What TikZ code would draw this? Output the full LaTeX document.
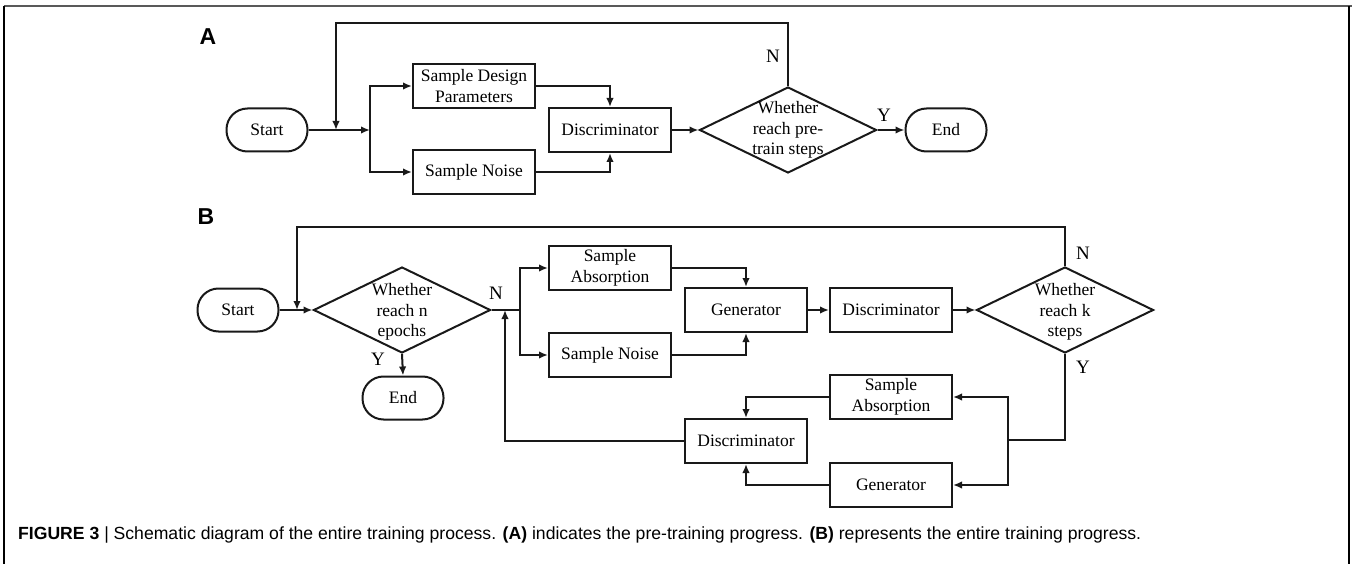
\documentclass[tikz,border=0pt]{standalone}
\usepackage{fontspec}
\setmainfont{Liberation Serif}
\setsansfont{Liberation Sans}
\usetikzlibrary{arrows.meta,shapes.geometric}
\tikzset{
  line/.style={line width=2pt, draw=black!90},
  arr/.style={line, -{Latex[length=9pt,width=7.5pt]}},
  procbox/.style={draw=black!90, line width=2pt, rectangle, minimum width=122pt, minimum height=44pt, inner sep=0pt, align=center, font=\fontsize{17.5}{20.5}\selectfont},
  termbox/.style={draw=black!90, line width=2pt, rectangle, rounded corners=21pt, minimum width=81pt, minimum height=43pt, inner sep=0pt, font=\fontsize{17.5}{20.5}\selectfont},
  decbox/.style={draw=black!90, line width=2pt, diamond, minimum width=177pt, minimum height=86pt, inner sep=0pt},
  dectext/.style={align=center, font=\fontsize{17.5}{20.5}\selectfont, inner sep=0pt},
  yn/.style={font=\fontsize{19}{20}\selectfont, inner sep=0pt},
  panel/.style={font=\fontsize{23}{24}\sffamily\bfseries\selectfont, inner sep=0pt},
}
\begin{document}
\begin{tikzpicture}[x=1pt,y=-1pt]
\useasboundingbox (0,0) rectangle (1352,564);
% frame
\draw[line width=2pt, draw=black!65] (4,6) -- (1352,6);
\draw[line width=2pt, draw=black] (4,6) -- (4,564);
\draw[line width=2pt, draw=black] (1349,6) -- (1349,564);

% ---------- Panel A ----------
\node[panel] (labA) at (208,37) {A};
\node[termbox] (startA) at (267,130) {Start};
\node[procbox] (sdp) at (474,86) {Sample Design\\Parameters};
\node[procbox] (snA) at (474,172) {Sample Noise};
\node[procbox] (discA) at (610,130) {Discriminator};
\node[decbox] (decA) at (788,130) {};
\node[dectext] (decAt) at (788,130) {Whether\\reach pre-\\train steps};
\node[termbox] (endA) at (946,130) {End};
\coordinate (splitA) at (370,130);
\coordinate (loopA) at (336,130);
\node[yn] (nA) at (773,56) {N};
\node[yn] (yA) at (884,115) {Y};

\draw[arr] (startA.east) -- (splitA);
\draw[arr] (splitA) |- (sdp.west);
\draw[arr] (splitA) |- (snA.west);
\draw[arr] (sdp.east) -| (discA.north);
\draw[arr] (snA.east) -| (discA.south);
\draw[arr] (discA.east) -- (decA.west);
\draw[arr] (decA.east) -- (endA.west);
\draw[arr] (decA.north) -- ++(0,-63) -| (loopA);

% ---------- Panel B ----------
\node[panel] (labB) at (206,217) {B};
\node[termbox] (startB) at (238,310) {Start};
\node[decbox] (decN) at (402,310) {};
\node[dectext] (decNt) at (402,312) {Whether\\reach n\\epochs};
\node[termbox] (endB) at (403,398) {End};
\node[procbox] (sa1) at (610,268) {Sample\\Absorption};
\node[procbox] (sn1) at (610,355) {Sample Noise};
\node[procbox] (gen1) at (746,310) {Generator};
\node[procbox] (disc1) at (891,310) {Discriminator};
\node[decbox] (decK) at (1065,310) {};
\node[dectext] (decKt) at (1065,312) {Whether\\reach k\\steps};
\node[procbox] (sa2) at (891,397) {Sample\\Absorption};
\node[procbox] (disc2) at (746,441) {Discriminator};
\node[procbox] (gen2) at (891,485) {Generator};
\coordinate (loopB) at (297,310);
\coordinate (splitB) at (520,310);
\coordinate (retB) at (505,310);
\coordinate (splitC) at (1008,440);
\node[yn] (nB1) at (496,293) {N};
\node[yn] (yB1) at (378,359) {Y};
\node[yn] (nB2) at (1083,253) {N};
\node[yn] (yB2) at (1083,367) {Y};

\draw[arr] (startB.east) -- (decN.west);
\draw[arr] (decK.north) -- ++(0,-39) -| (loopB);
\draw[line] (decN.east) -- (splitB);
\draw[arr] (splitB) |- (sa1.west);
\draw[arr] (splitB) |- (sn1.west);
\draw[arr] (sa1.east) -| (gen1.north);
\draw[arr] (sn1.east) -| (gen1.south);
\draw[arr] (gen1.east) -- (disc1.west);
\draw[arr] (disc1.east) -- (decK.west);
\draw[arr] (decN.south) -- (endB.north);
\draw[line] (decK.south) |- (splitC);
\draw[arr] (splitC) |- (sa2.east);
\draw[arr] (splitC) |- (gen2.east);
\draw[arr] (sa2.west) -| (disc2.north);
\draw[arr] (gen2.west) -| (disc2.south);
\draw[arr] (disc2.west) -| (retB);

% caption
\node[anchor=west, inner sep=0pt, font=\fontsize{17.6}{19}\sffamily\selectfont] (cap) at (18,535)
  {\textbf{FIGURE 3} | Schematic diagram of the entire training process. \textbf{(A)} indicates the pre-training progress. \textbf{(B)} represents the entire training progress.};
\end{tikzpicture}
\end{document}
